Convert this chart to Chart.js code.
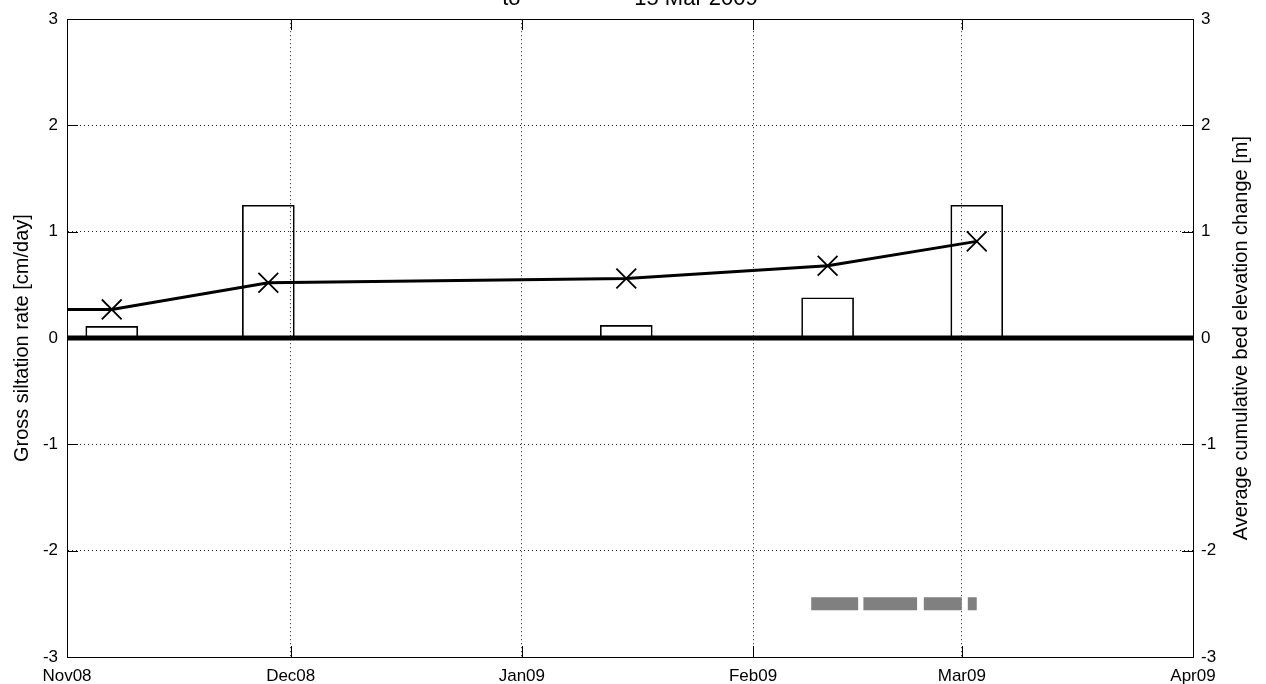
<!DOCTYPE html>
<html>
<head>
<meta charset="utf-8">
<title>Gross siltation rate and bed elevation change</title>
<script src="https://cdn.jsdelivr.net/npm/chart.js@4"></script>
<style>
  html, body { margin: 0; padding: 0; background: #fff; }
  #wrap { width: 1266px; height: 684px; position: relative; }
</style>
</head>
<body>
<div id="wrap"><canvas id="siltChart"></canvas></div>
<script>
// Time axis in days since 1 Nov 2008
const monthDays = [0, 30, 61, 92, 120, 151];
const monthLabels = ['Nov08', 'Dec08', 'Jan09', 'Feb09', 'Mar09', 'Apr09'];

// Gross siltation rate per survey interval [cm/day]
const surveyDays = [6, 27, 75, 102, 122];
const siltRates = [0.11, 1.25, 0.12, 0.38, 1.25];

// Average cumulative bed elevation change [m]
const elevDays = [0, 6, 27, 75, 102, 122];
const elevValues = [0.27, 0.27, 0.52, 0.56, 0.68, 0.91];

// Grey coverage periods drawn at a fixed level
const coverStart = [99.8, 106.8, 114.9, 120.8];
const coverEnd = [106.1, 114.0, 120.0, 122.0];
const coverLevel = -2.5;

const yTicks = [-3, -2, -1, 0, 1, 2, 3];
const titleText = 'to       \u2014        15 Mar 2009';
const leftTitle = 'Gross siltation rate [cm/day]';
const rightTitle = 'Average cumulative bed elevation change [m]';

document.addEventListener('DOMContentLoaded', function() {
  const ctx = document.getElementById('siltChart');

  Chart.defaults.font.family = '"Liberation Sans", Arial, Helvetica, sans-serif';
  Chart.defaults.font.size = 17;
  Chart.defaults.color = '#000';

  // build the gapped coverage line
  const coverData = [];
  coverStart.forEach((s, i) => {
    coverData.push({ x: s, y: coverLevel });
    coverData.push({ x: coverEnd[i], y: coverLevel });
    coverData.push({ x: coverEnd[i], y: null });
  });

  // inward tick marks, box frame, clipped title and right axis label
  const matlabAxes = {
    id: 'matlabAxes',
    afterDraw(chart) {
      const c = chart.ctx;
      const area = chart.chartArea;
      const x = chart.scales.x;
      const y = chart.scales.y;
      const tickLen = 11;

      c.save();
      c.strokeStyle = '#000';
      c.lineWidth = 1;
      c.beginPath();
      x.ticks.forEach(t => {
        const px = Math.round(x.getPixelForValue(t.value)) + 0.5;
        c.moveTo(px, area.bottom);
        c.lineTo(px, area.bottom - tickLen);
        c.moveTo(px, area.top);
        c.lineTo(px, area.top + tickLen);
      });
      y.ticks.forEach(t => {
        const py = Math.round(y.getPixelForValue(t.value)) + 0.5;
        c.moveTo(area.left, py);
        c.lineTo(area.left + tickLen, py);
        c.moveTo(area.right, py);
        c.lineTo(area.right - tickLen, py);
      });
      c.stroke();

      c.strokeRect(Math.round(area.left) + 0.5, Math.round(area.top) + 0.5,
        Math.round(area.right - area.left), Math.round(area.bottom - area.top));

      // title sits mostly above the canvas edge
      c.fillStyle = '#000';
      c.font = '22px "Liberation Sans", Arial, sans-serif';
      c.textAlign = 'center';
      c.textBaseline = 'alphabetic';
      c.fillText(titleText, (area.left + area.right) / 2, 5);

      // right label reads bottom to top
      c.font = '20px "Liberation Sans", Arial, sans-serif';
      c.translate(1241, (area.top + area.bottom) / 2);
      c.rotate(-Math.PI / 2);
      c.textBaseline = 'middle';
      c.fillText(rightTitle, 0, 0);
      c.restore();
    }
  };

  new Chart(ctx, {
    type: 'line',
    data: {
      datasets: [
        {
          label: 'Bed elevation',
          data: elevDays.map((d, i) => ({ x: d, y: elevValues[i] })),
          yAxisID: 'y2',
          borderColor: '#000',
          borderWidth: 3,
          pointStyle: 'crossRot',
          pointRadius: c => (c.dataIndex === 0 ? 0 : 14),
          pointBorderWidth: 1.8,
          pointBorderColor: '#000',
          pointBackgroundColor: '#000',
          tension: 0
        },
        {
          label: 'Zero',
          data: [{ x: monthDays[0], y: 0 }, { x: monthDays[monthDays.length - 1], y: 0 }],
          yAxisID: 'y',
          borderColor: '#000',
          borderWidth: 5,
          pointRadius: 0
        },
        {
          label: 'Coverage',
          data: coverData,
          yAxisID: 'y',
          borderColor: '#808080',
          borderWidth: 13,
          borderCapStyle: 'butt',
          pointRadius: 0,
          spanGaps: false
        },
        {
          type: 'bar',
          label: 'Siltation rate',
          data: surveyDays.map((d, i) => ({ x: d, y: siltRates[i] })),
          yAxisID: 'y',
          backgroundColor: 'rgba(0,0,0,0)',
          borderColor: '#000',
          borderWidth: 1,
          borderSkipped: false,
          barThickness: 52
        }
      ]
    },
    options: {
      responsive: true,
      maintainAspectRatio: false,
      animation: false,
      layout: { padding: { top: 16, left: 0, right: 0, bottom: 0 } },
      plugins: {
        legend: { display: false },
        tooltip: { enabled: false },
        title: { display: false }
      },
      scales: {
        x: {
          type: 'linear',
          min: monthDays[0],
          max: monthDays[monthDays.length - 1],
          offset: false,
          afterBuildTicks: scale => {
            scale.ticks = monthDays.map(v => ({ value: v }));
          },
          afterFit: scale => { scale.height = 27; },
          ticks: {
            autoSkip: false,
            maxRotation: 0,
            padding: 9,
            callback: value => monthLabels[monthDays.indexOf(value)]
          },
          grid: { offset: false, drawTicks: false, color: '#222', lineWidth: 1 },
          border: { display: true, color: '#000', width: 1, dash: [1, 3] }
        },
        y: {
          type: 'linear',
          position: 'left',
          min: -3,
          max: 3,
          afterBuildTicks: scale => {
            scale.ticks = yTicks.map(v => ({ value: v }));
          },
          afterFit: scale => { scale.width = 67; },
          ticks: { padding: 9 },
          grid: { drawTicks: false, color: '#222', lineWidth: 1 },
          border: { display: true, color: '#000', width: 1, dash: [1, 3] },
          title: {
            display: true,
            text: leftTitle,
            font: { size: 20 },
            padding: { top: 10, bottom: 0 }
          }
        },
        y2: {
          type: 'linear',
          position: 'right',
          min: -3,
          max: 3,
          afterBuildTicks: scale => {
            scale.ticks = yTicks.map(v => ({ value: v }));
          },
          afterFit: scale => { scale.width = 73; },
          ticks: { padding: 8 },
          grid: { display: false, drawTicks: false },
          border: { display: true, color: '#000', width: 1 }
        }
      }
    },
    plugins: [matlabAxes]
  });
});
</script>
</body>
</html>
